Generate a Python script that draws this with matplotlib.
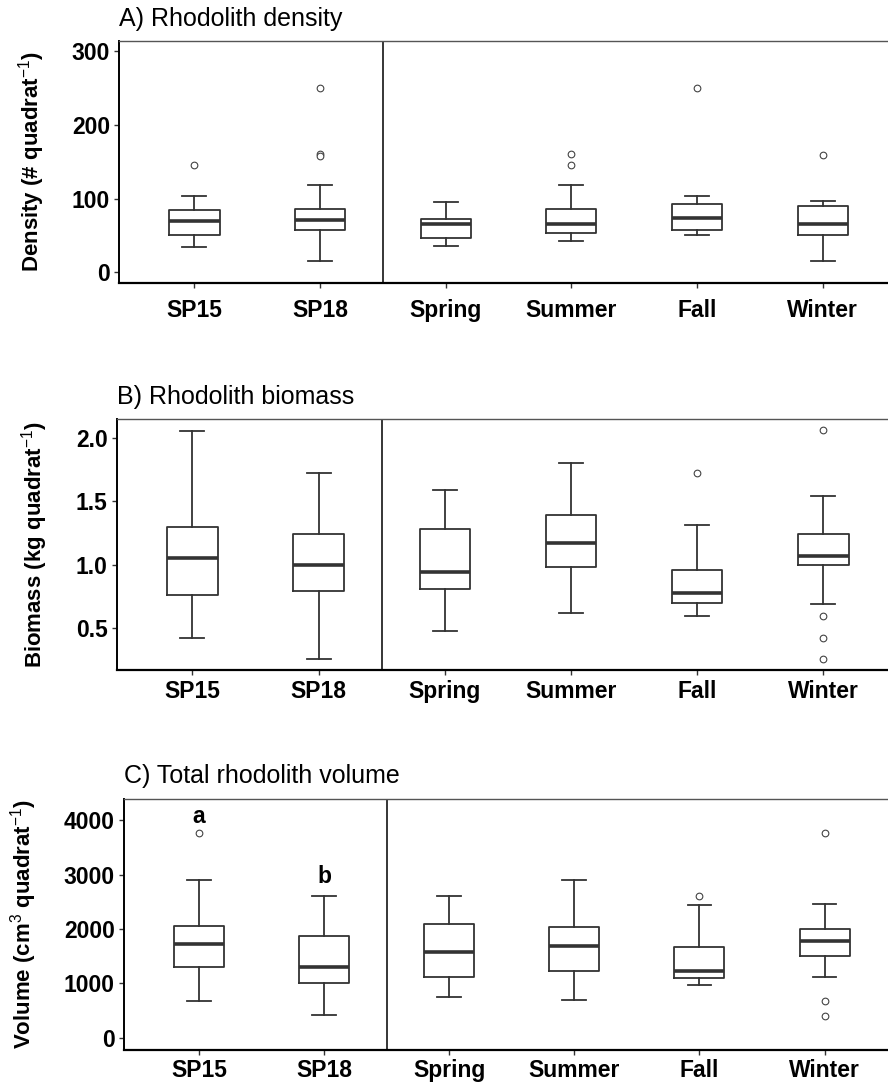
import matplotlib
matplotlib.use("Agg")
import matplotlib.pyplot as plt

plt.rcParams['font.family'] = ['Liberation Sans', 'DejaVu Sans']
plt.rcParams['mathtext.fontset'] = 'custom'
plt.rcParams['mathtext.rm'] = 'Liberation Sans'
plt.rcParams['mathtext.it'] = 'Liberation Sans'
plt.rcParams['mathtext.bf'] = 'Liberation Sans:bold'

groups = ['SP15', 'SP18', 'Spring', 'Summer', 'Fall', 'Winter']

# five-number summaries per group: whislo, q1, med, q3, whishi
density_stats = [
    [35, 50, 69, 85, 103],
    [16, 57, 71, 86, 118],
    [36, 47, 66, 72, 95],
    [42, 53, 66, 86, 118],
    [50, 57, 74, 92, 103],
    [16, 51, 66, 90, 97],
]
density_out = [[146], [250, 160, 158], [], [161, 146], [250], [159]]

biomass_stats = [
    [0.42, 0.76, 1.05, 1.30, 2.05],
    [0.26, 0.79, 1.00, 1.24, 1.72],
    [0.48, 0.81, 0.94, 1.28, 1.59],
    [0.62, 0.98, 1.17, 1.39, 1.80],
    [0.60, 0.70, 0.78, 0.96, 1.31],
    [0.69, 1.00, 1.07, 1.24, 1.54],
]
biomass_out = [[], [], [], [], [1.72], [2.06, 0.60, 0.42, 0.26]]

volume_stats = [
    [675, 1307, 1730, 2061, 2902],
    [412, 1006, 1307, 1877, 2607],
    [743, 1122, 1582, 2092, 2607],
    [694, 1233, 1681, 2031, 2902],
    [970, 1092, 1233, 1675, 2447],
    [1122, 1509, 1785, 1994, 2454],
]
volume_out = [[3772], [], [], [], [2607], [3772, 670, 405]]

volume_letters = ['a', 'b']
volume_letter_y = [3945, 2852]

panels = [
    dict(rect=[0.1340, 0.7384, 0.8773, 0.2237], stats=density_stats, out=density_out,
         title='A) Rhodolith density', ylabel=r'Density (# quadrat$^{-1}$)',
         ylim=(-14.5, 313.6), yticks=[0, 100, 200, 300], fmt='{:.0f}', labx=-0.092, xpad=8),
    dict(rect=[0.1314, 0.3808, 0.8810, 0.2317], stats=biomass_stats, out=biomass_out,
         title='B) Rhodolith biomass', ylabel=r'Biomass (kg quadrat$^{-1}$)',
         ylim=(0.172, 2.145), yticks=[0.5, 1.0, 1.5, 2.0], fmt='{:.1f}', labx=-0.085, xpad=3.5),
    dict(rect=[0.1396, 0.0296, 0.8735, 0.2322], stats=volume_stats, out=volume_out,
         title='C) Total rhodolith volume', ylabel=r'Volume (cm$^{3}$ quadrat$^{-1}$)',
         ylim=(-226, 4397), yticks=[0, 1000, 2000, 3000, 4000], fmt='{:.0f}', labx=-0.110, xpad=3),
]

line_col = '#333333'

fig = plt.figure(figsize=(8.88, 10.82), dpi=100)

for p in panels:
    ax = fig.add_axes(p['rect'])
    bxp_stats = []
    for s, o, name in zip(p['stats'], p['out'], groups):
        bxp_stats.append(dict(whislo=s[0], q1=s[1], med=s[2], q3=s[3], whishi=s[4],
                              fliers=o, label=name))
    ax.bxp(bxp_stats, positions=range(1, 7), widths=0.4, capwidths=0.19,
           boxprops=dict(color=line_col, lw=1.3),
           whiskerprops=dict(color=line_col, lw=1.3),
           capprops=dict(color=line_col, lw=1.3),
           medianprops=dict(color=line_col, lw=2.6, solid_capstyle='butt'),
           flierprops=dict(marker='o', markersize=4.8, markerfacecolor='white',
                           markeredgecolor='#444444', markeredgewidth=0.8))
    ax.axvline(2.5, color='black', lw=1.1)
    ax.set_xlim(0.4, 6.6)
    ax.set_ylim(*p['ylim'])
    ax.set_yticks(p['yticks'])
    ax.set_yticklabels([p['fmt'].format(v) for v in p['yticks']])
    ax.set_xticks(range(1, 7))
    ax.set_xticklabels(groups)
    for lab in ax.get_xticklabels() + ax.get_yticklabels():
        lab.set_fontweight('bold')
        lab.set_fontsize(16.5)
        lab.set_color('black')
    ax.tick_params(axis='x', length=3.5, width=1, color=line_col, pad=p['xpad'])
    ax.tick_params(axis='y', length=3.5, width=1, color=line_col, pad=3)
    ax.spines['left'].set_color('black')
    ax.spines['left'].set_linewidth(1.4)
    ax.spines['bottom'].set_color('black')
    ax.spines['bottom'].set_linewidth(1.6)
    ax.spines['top'].set_color('#555555')
    ax.spines['top'].set_linewidth(1.0)
    ax.spines['right'].set_visible(False)
    ax.set_title(p['title'], loc='left', fontsize=18, pad=11)
    ax.set_ylabel(p['ylabel'], fontsize=16, fontweight='bold')
    ax.yaxis.set_label_coords(p['labx'], 0.5)
    if p['stats'] is volume_stats:
        for i, (t, y) in enumerate(zip(volume_letters, volume_letter_y)):
            ax.text(i + 1, y, t, ha='center', va='baseline', fontsize=16.5,
                    fontweight='bold')

fig.savefig('out.png', dpi=100)
